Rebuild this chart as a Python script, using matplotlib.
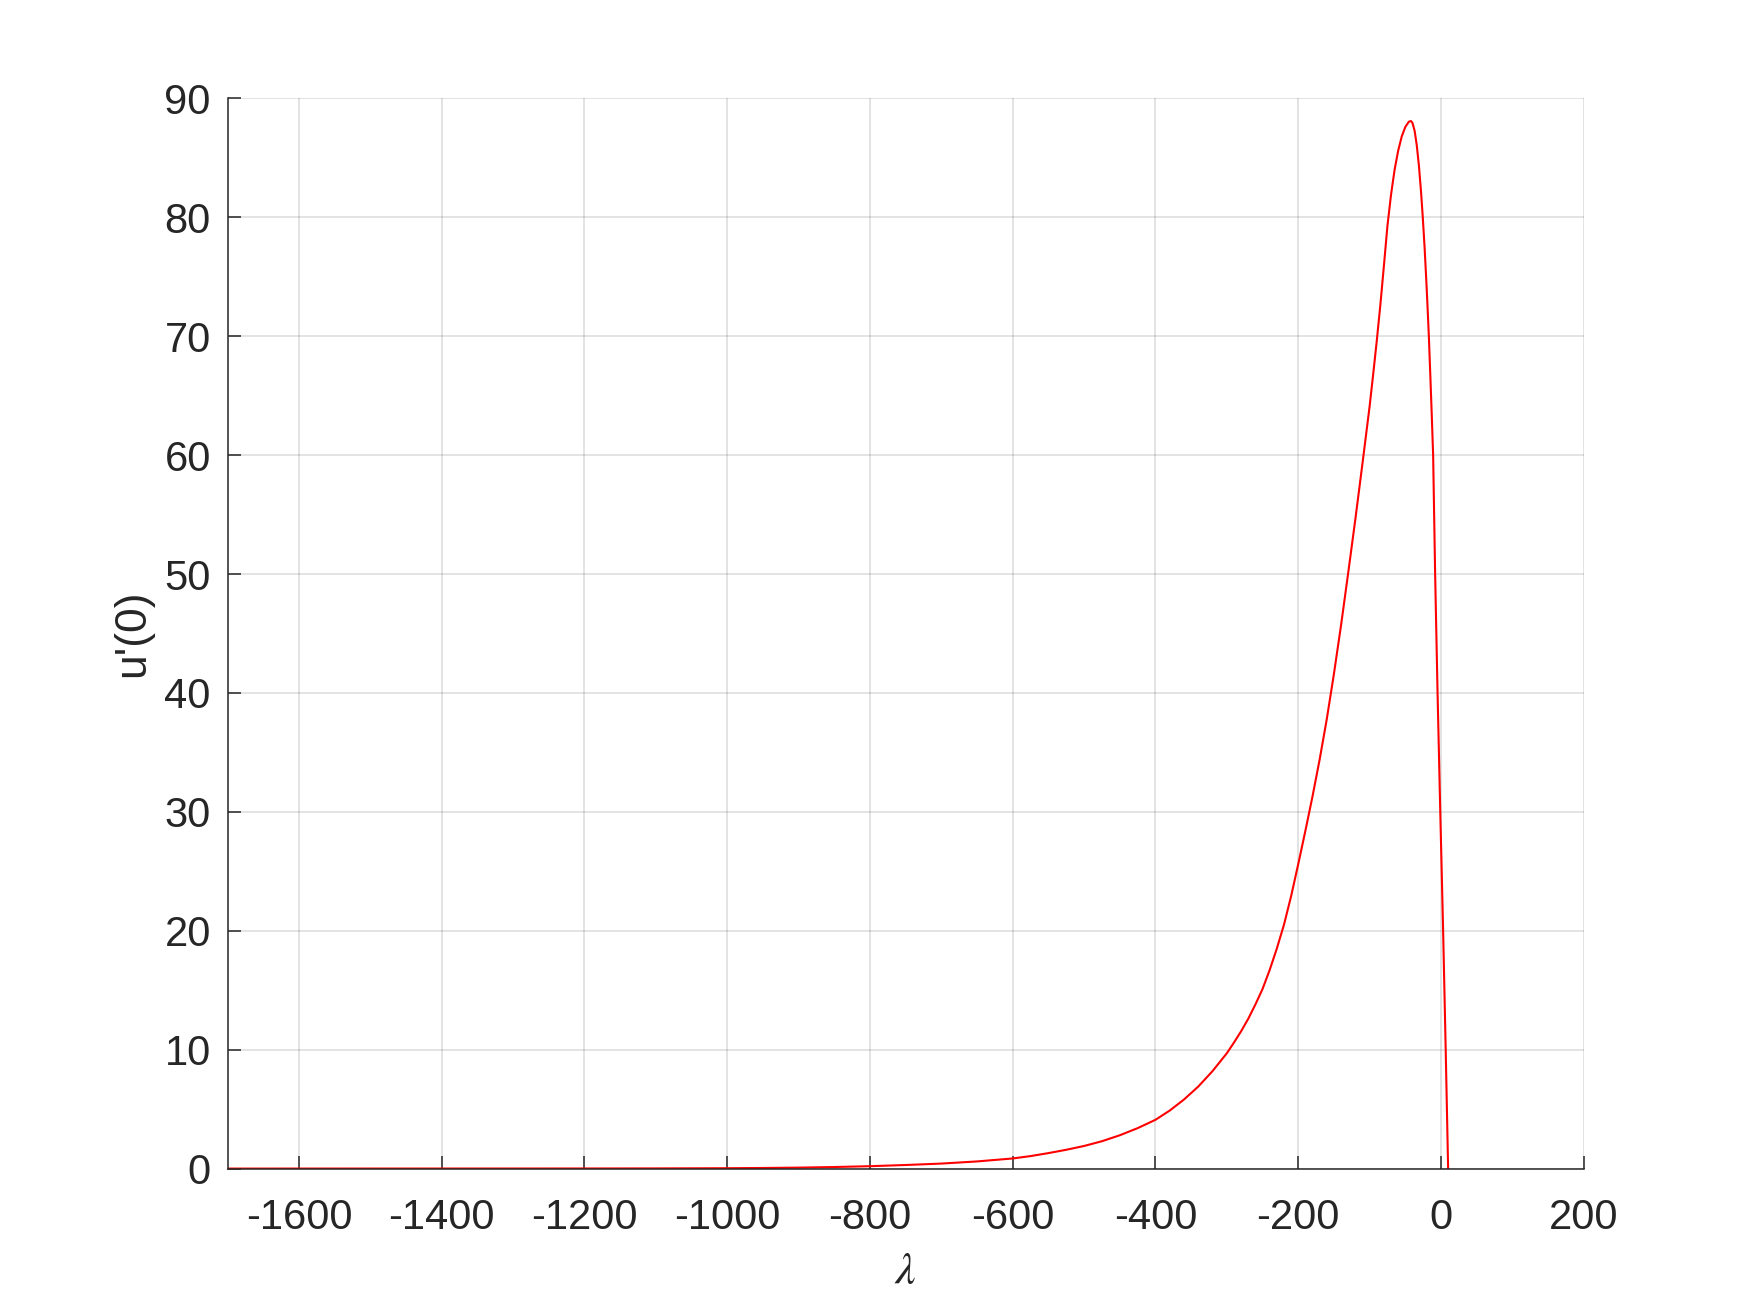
import numpy as np
import matplotlib
matplotlib.use('Agg')
import matplotlib.pyplot as plt

# Значення: lambda та u'(0)
lam = [-1700, -1600, -1500, -1400, -1300, -1200, -1100, -1000, -950, -900,
       -850, -800, -750, -700, -650, -600, -575, -550, -525, -500,
       -475, -450, -425, -400, -380, -360, -340, -320, -300, -290,
       -280, -270, -260, -250, -240, -230, -220, -210, -200, -190,
       -180, -170, -160, -150, -140, -130, -120, -110, -100, -95,
       -90, -85, -80, -75, -70, -65, -60, -55, -50, -45,
       -42, -40, -37, -34, -31, -28, -25.5, -23, -21, -19,
       -17, -15, -13, -11, -9.6, -8.2, -6.5, -4.8, -2.9, -1,
       1, 3, 4.8, 6.6, 8.3, 10]
du0 = [0.0, 0.001, 0.002, 0.003, 0.005, 0.008, 0.015, 0.03, 0.05, 0.08,
       0.13, 0.2, 0.3, 0.42, 0.6, 0.85, 1.05, 1.3, 1.58, 1.9,
       2.3, 2.8, 3.4, 4.1, 4.88, 5.81, 6.9, 8.2, 9.7, 10.6,
       11.55, 12.6, 13.8, 15.1, 16.7, 18.5, 20.5, 22.9, 25.6, 28.4,
       31.3, 34.4, 37.8, 41.6, 45.7, 50.1, 54.6, 59.3, 64.1, 66.8,
       69.6, 72.6, 75.9, 79.3, 81.9, 84.0, 85.6, 86.8, 87.6, 88.05,
       88.1, 87.95, 87.3, 86.1, 84.4, 82.2, 80.0, 77.5, 75.2, 72.7,
       70.0, 66.8, 63.5, 60.0, 55.0, 50.0, 45.0, 40.0, 35.0, 30.0,
       25.0, 20.0, 15.0, 10.0, 5.0, 0.0]

xticks = [-1600, -1400, -1200, -1000, -800, -600, -400, -200, 0, 200]
yticks = [0, 10, 20, 30, 40, 50, 60, 70, 80, 90]

plt.rcParams['font.family'] = ['Liberation Sans', 'DejaVu Sans']
plt.rcParams['axes.unicode_minus'] = False
plt.rcParams['mathtext.fontset'] = 'stix'

dark = (0.15, 0.15, 0.15)

fig = plt.figure(figsize=(17.5, 13.13), dpi=100)
ax = fig.add_axes([0.13, 0.11, 0.775, 0.815])

ax.plot(lam, du0, color='red', lw=1.5)

ax.set_xlim(-1700, 200)
ax.set_ylim(0, 90)
ax.set_xticks(xticks)
ax.set_yticks(yticks)
ax.grid(True, color=dark, alpha=0.15, lw=1.2)
ax.set_axisbelow(True)

for s in ['top', 'right']:
    ax.spines[s].set_visible(False)
for s in ['left', 'bottom']:
    ax.spines[s].set_color(dark)
    ax.spines[s].set_linewidth(1.1)

ax.tick_params(direction='in', length=9.5, width=1.1, colors=dark,
               labelsize=30, labelcolor=dark)
ax.tick_params(axis='x', pad=21)
ax.tick_params(axis='y', pad=12)

ax.set_xlabel(r'$\lambda$', fontsize=33, color=dark, labelpad=9)
ax.set_ylabel("u'(0)", fontsize=32, color=dark, labelpad=8)

fig.savefig('out.png', dpi=100)
